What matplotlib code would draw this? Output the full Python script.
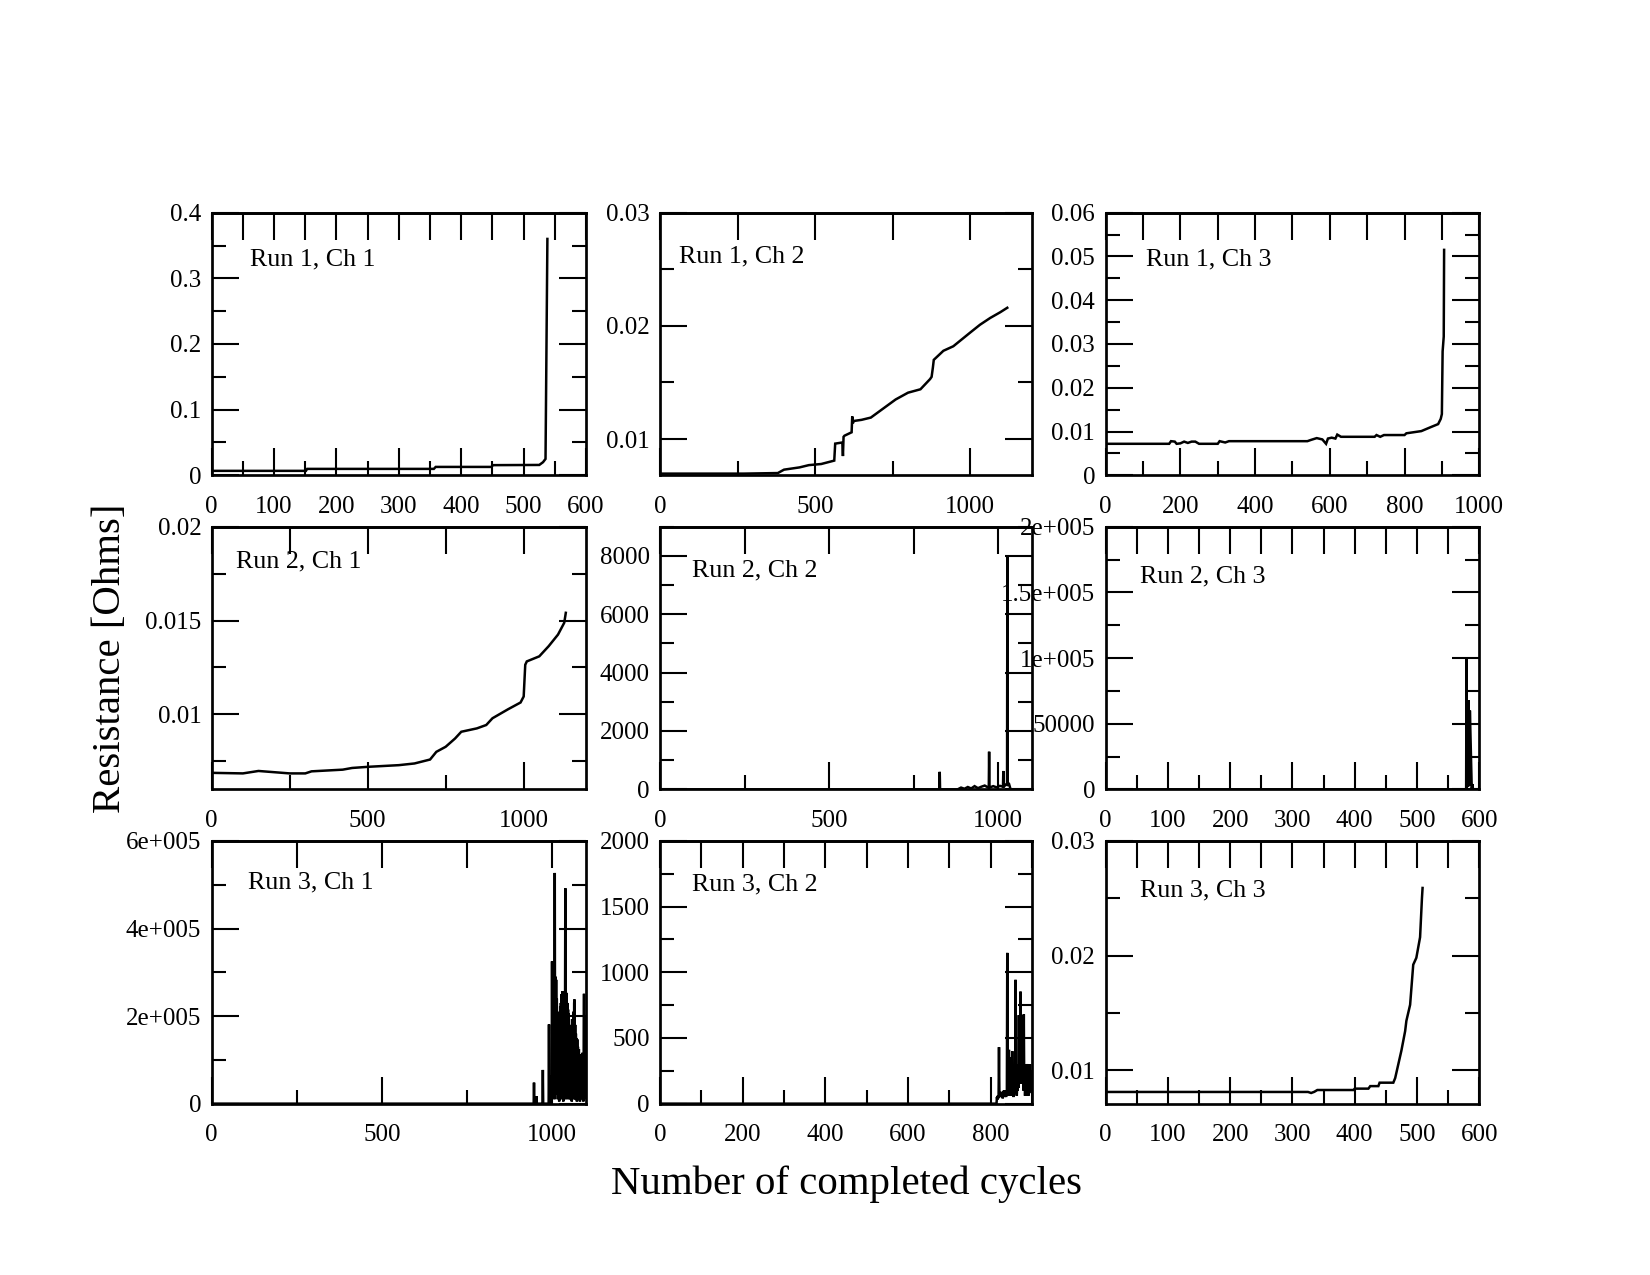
import matplotlib
matplotlib.use('Agg')
import matplotlib.pyplot as plt
from matplotlib.ticker import MultipleLocator, FormatStrFormatter, NullLocator
import numpy as np

plt.rcParams['font.family'] = ['Liberation Serif', 'DejaVu Serif']
plt.rcParams['path.simplify'] = False

# ---- data (cycles, resistance in Ohms) ----
r1c1_x = [0, 151, 153, 356, 359, 448, 451, 525, 531, 535, 538]
r1c1_y = [0.0068, 0.0068, 0.0098, 0.0098, 0.0128, 0.0128, 0.0155, 0.0158, 0.020, 0.025, 0.36]

r1c2_x = [0, 270, 380, 400, 450, 480, 520, 562, 565, 588, 590, 592, 595, 618, 620, 622,
          625, 650, 680, 700, 730, 760, 780, 800, 840, 871, 876, 880, 883, 914, 946,
          1000, 1032, 1065, 1097, 1120]
r1c2_y = [0.00695, 0.00695, 0.0070, 0.0073, 0.0075, 0.0077, 0.0078, 0.0081, 0.0096, 0.0097,
          0.0085, 0.0102, 0.0103, 0.0106, 0.0120, 0.0114, 0.0116, 0.0117, 0.0119, 0.0123,
          0.0129, 0.0135, 0.0138, 0.0141, 0.0144, 0.0153, 0.0155, 0.0163, 0.0170, 0.0178,
          0.0182, 0.0194, 0.0201, 0.0207, 0.0212, 0.0216]

r1c3_x = [0, 170, 175, 185, 190, 200, 210, 220, 230, 240, 250, 300, 305, 320, 330, 540,
          550, 565, 580, 590, 595, 605, 615, 620, 630, 720, 725, 735, 745, 800, 805, 845,
          870, 890, 897, 900, 902, 905, 906]
r1c3_y = [0.0072, 0.0072, 0.0078, 0.0077, 0.0072, 0.0073, 0.0077, 0.0074, 0.0077, 0.0077,
          0.0072, 0.0072, 0.0078, 0.0075, 0.0078, 0.0078, 0.0081, 0.0085, 0.0082, 0.0072,
          0.0084, 0.0086, 0.0084, 0.0093, 0.0088, 0.0088, 0.0092, 0.0088, 0.0092, 0.0092,
          0.0096, 0.0101, 0.0110, 0.0117, 0.0129, 0.0140, 0.0283, 0.0317, 0.0515]

r2c1_x = [0, 100, 150, 250, 300, 320, 420, 450, 500, 600, 650, 700, 720, 750, 780, 800,
          850, 880, 900, 950, 990, 1000, 1005, 1010, 1050, 1080, 1110, 1130, 1135]
r2c1_y = [0.00688, 0.00685, 0.00698, 0.00685, 0.00685, 0.00696, 0.00705, 0.00714, 0.0072,
          0.00729, 0.00738, 0.00759, 0.0080, 0.00827, 0.00871, 0.00907, 0.00925, 0.00943,
          0.00979, 0.01027, 0.01063, 0.01095, 0.01264, 0.01282, 0.01309, 0.01363, 0.01425,
          0.01488, 0.01541]

r2c2_x = [0, 826, 827, 828, 880, 890, 900, 910, 920, 930, 940, 950, 960, 972, 973, 974,
          985, 995, 1005, 1014, 1015, 1016, 1022, 1026, 1027, 1028, 1031, 1035]
r2c2_y = [0, 0, 600, 0, 0, 60, 20, 80, 30, 110, 40, 90, 130, 50, 1290, 60,
          110, 70, 120, 90, 630, 80, 160, 150, 8030, 150, 220, 60]

r2c3_x = [0, 579, 579.5, 580, 581, 582, 583, 584, 585, 588, 589, 590]
r2c3_y = [0, 0, 100000, 0, 68000, 2000, 68000, 3000, 60000, 0, 4000, 0]

r3c1_x = [0, 946, 947, 948, 953, 954, 955, 972, 973, 974, 990, 991, 992, 997, 998, 999] + \
    list(range(1000, 1101))
r3c1_y = [0, 0, 48000, 0, 0, 17000, 0, 0, 77000, 0, 0, 181000, 0, 0, 64000, 20000,
          325000, 40000, 300000, 20000, 250000, 60000, 270000, 10000, 527000, 30000,
          290000, 50000, 283000, 20000, 240000, 60000, 200000, 10000, 188000, 40000,
          170000, 5000, 210000, 30000, 222000, 60000, 230000, 20000, 250000, 10000,
          257000, 40000, 200000, 5000, 180000, 60000, 210000, 20000, 150000, 492000,
          10000, 240000, 30000, 253000, 20000, 230000, 40000, 215000, 10000, 207000,
          50000, 180000, 20000, 147000, 10000, 160000, 30000, 150000, 5000, 193000,
          40000, 170000, 20000, 210000, 10000, 230000, 238000, 30000, 180000, 10000,
          160000, 40000, 150000, 5000, 147000, 30000, 130000, 10000, 120000, 124000,
          20000, 110000, 5000, 105000, 113000, 30000, 100000, 10000, 110000, 116000,
          20000, 105000, 5000, 120000, 251000, 30000, 200000, 10000, 150000, 40000, 120000]

r3c2_x = [0] + list(range(814, 899))
r3c2_y = [0, 0, 50, 30, 60, 40, 60, 430, 60, 80, 50, 70, 60, 90, 50, 80, 40, 90, 60,
          100, 50, 80, 60, 90, 50, 100, 60, 1148, 80, 300, 60, 410, 100, 350, 60, 200,
          80, 150, 60, 400, 90, 160, 50, 120, 80, 200, 100, 943, 90, 250, 60, 150, 100,
          300, 120, 674, 150, 500, 200, 853, 250, 650, 150, 674, 200, 600, 100, 680,
          150, 300, 60, 155, 80, 200, 60, 302, 80, 150, 60, 135, 80, 100, 300, 90, 250, 100]

r3c3_x = [0, 325, 330, 335, 340, 398, 400, 422, 425, 438, 440, 462, 465, 470, 475, 481,
          483, 489, 494, 499, 505, 508, 509]
r3c3_y = [0.00809, 0.00809, 0.0080, 0.0081, 0.00826, 0.00826, 0.00838, 0.00838, 0.0086,
          0.0086, 0.0089, 0.0089, 0.0093, 0.0105, 0.0117, 0.0134, 0.0143, 0.0157, 0.0192,
          0.0198, 0.0216, 0.0250, 0.0259]

series_x = [r1c1_x, r1c2_x, r1c3_x, r2c1_x, r2c2_x, r2c3_x, r3c1_x, r3c2_x, r3c3_x]
series_y = [r1c1_y, r1c2_y, r1c3_y, r2c1_y, r2c2_y, r2c3_y, r3c1_y, r3c2_y, r3c3_y]

titles = ['Run 1, Ch 1', 'Run 1, Ch 2', 'Run 1, Ch 3',
          'Run 2, Ch 1', 'Run 2, Ch 2', 'Run 2, Ch 3',
          'Run 3, Ch 1', 'Run 3, Ch 2', 'Run 3, Ch 3']

# axis ranges and tick steps (major, minor)
xlims = [(0, 600), (0, 1200), (0, 1000), (0, 1200), (0, 1100), (0, 600), (0, 1100), (0, 900), (0, 600)]
xsteps = [(100, 50), (500, 250), (200, 100), (500, 250), (500, 250), (100, 50), (500, 250), (200, 100), (100, 50)]
ylims = [(0, 0.4), (0.0068, 0.03), (0, 0.06), (0.006, 0.02), (0, 9000), (0, 200000),
         (0, 600000), (0, 2000), (0.00707, 0.03)]
ysteps = [(0.1, 0.05), (0.01, 0.005), (0.01, 0.005), (0.005, 0.0025), (2000, 1000),
          (50000, 25000), (200000, 100000), (500, 250), (0.01, 0.005)]
# Grace-style exponent labels
yticklabels = {5: ['0', '50000', '1e+005', '1.5e+005', '2e+005'],
               6: ['0', '2e+005', '4e+005', '6e+005']}

# placement of the 3x3 panels (figure fractions)
lefts = [0.1283, 0.4, 0.6701]
widths = [0.2269, 0.2255, 0.2264]
bottoms = [0.6272, 0.3809, 0.1344]
height = 0.206
label_pos = [(0.102, 0.8225), (0.052, 0.832), (0.108, 0.8225),
             (0.064, 0.869), (0.085, 0.833), (0.092, 0.811),
             (0.098, 0.844), (0.085, 0.834), (0.092, 0.8125)]

MAJ, MIN = 12.8, 6.6

fig = plt.figure(figsize=(11, 8.5), dpi=150)

for i in range(9):
    r, c = divmod(i, 3)
    ax = fig.add_axes([lefts[c], bottoms[r], widths[c], height])
    ax.plot(series_x[i], series_y[i], color='black', lw=1.2, solid_joinstyle='miter')
    ax.set_xlim(*xlims[i])
    ax.set_ylim(*ylims[i])
    ax.xaxis.set_major_locator(MultipleLocator(xsteps[i][0]))
    ax.xaxis.set_minor_locator(MultipleLocator(xsteps[i][1]))
    ax.yaxis.set_major_locator(MultipleLocator(ysteps[i][0]))
    ax.yaxis.set_minor_locator(MultipleLocator(ysteps[i][1]))
    ax.xaxis.set_major_formatter(FormatStrFormatter('%g'))
    ax.yaxis.set_major_formatter(FormatStrFormatter('%g'))
    if i in yticklabels:
        step = ysteps[i][0]
        ax.set_yticks([k * step for k in range(len(yticklabels[i]))])
        ax.set_yticklabels(yticklabels[i])
    ax.tick_params(which='both', direction='in', width=1.0, colors='black',
                   labelsize=12, left=True, right=True, bottom=True, top=False)
    ax.tick_params(which='major', length=MAJ)
    ax.tick_params(which='minor', length=MIN)
    ax.tick_params(axis='x', pad=10)
    ax.tick_params(axis='y', pad=5)
    for sp in ax.spines.values():
        sp.set_linewidth(1.3)

    # top axis: every tick drawn at full length, no labels
    lo, hi = xlims[i]
    top = ax.secondary_xaxis('top')
    top.set_xticks(np.arange(lo, hi + 1e-9, xsteps[i][1]))
    top.xaxis.set_minor_locator(NullLocator())
    top.tick_params(direction='in', length=MAJ, width=1.0, labeltop=False)
    top.spines['top'].set_linewidth(1.3)

    ax.text(label_pos[i][0], label_pos[i][1], titles[i], transform=ax.transAxes,
            fontsize=12.5, ha='left', va='center')

fig.text(0.513, 0.0714, 'Number of completed cycles', fontsize=19.6, ha='center', va='center')
fig.text(0.067, 0.484, 'Resistance [Ohms]', fontsize=19.6, ha='center', va='center', rotation=90)

fig.savefig('out.png', dpi=150)
